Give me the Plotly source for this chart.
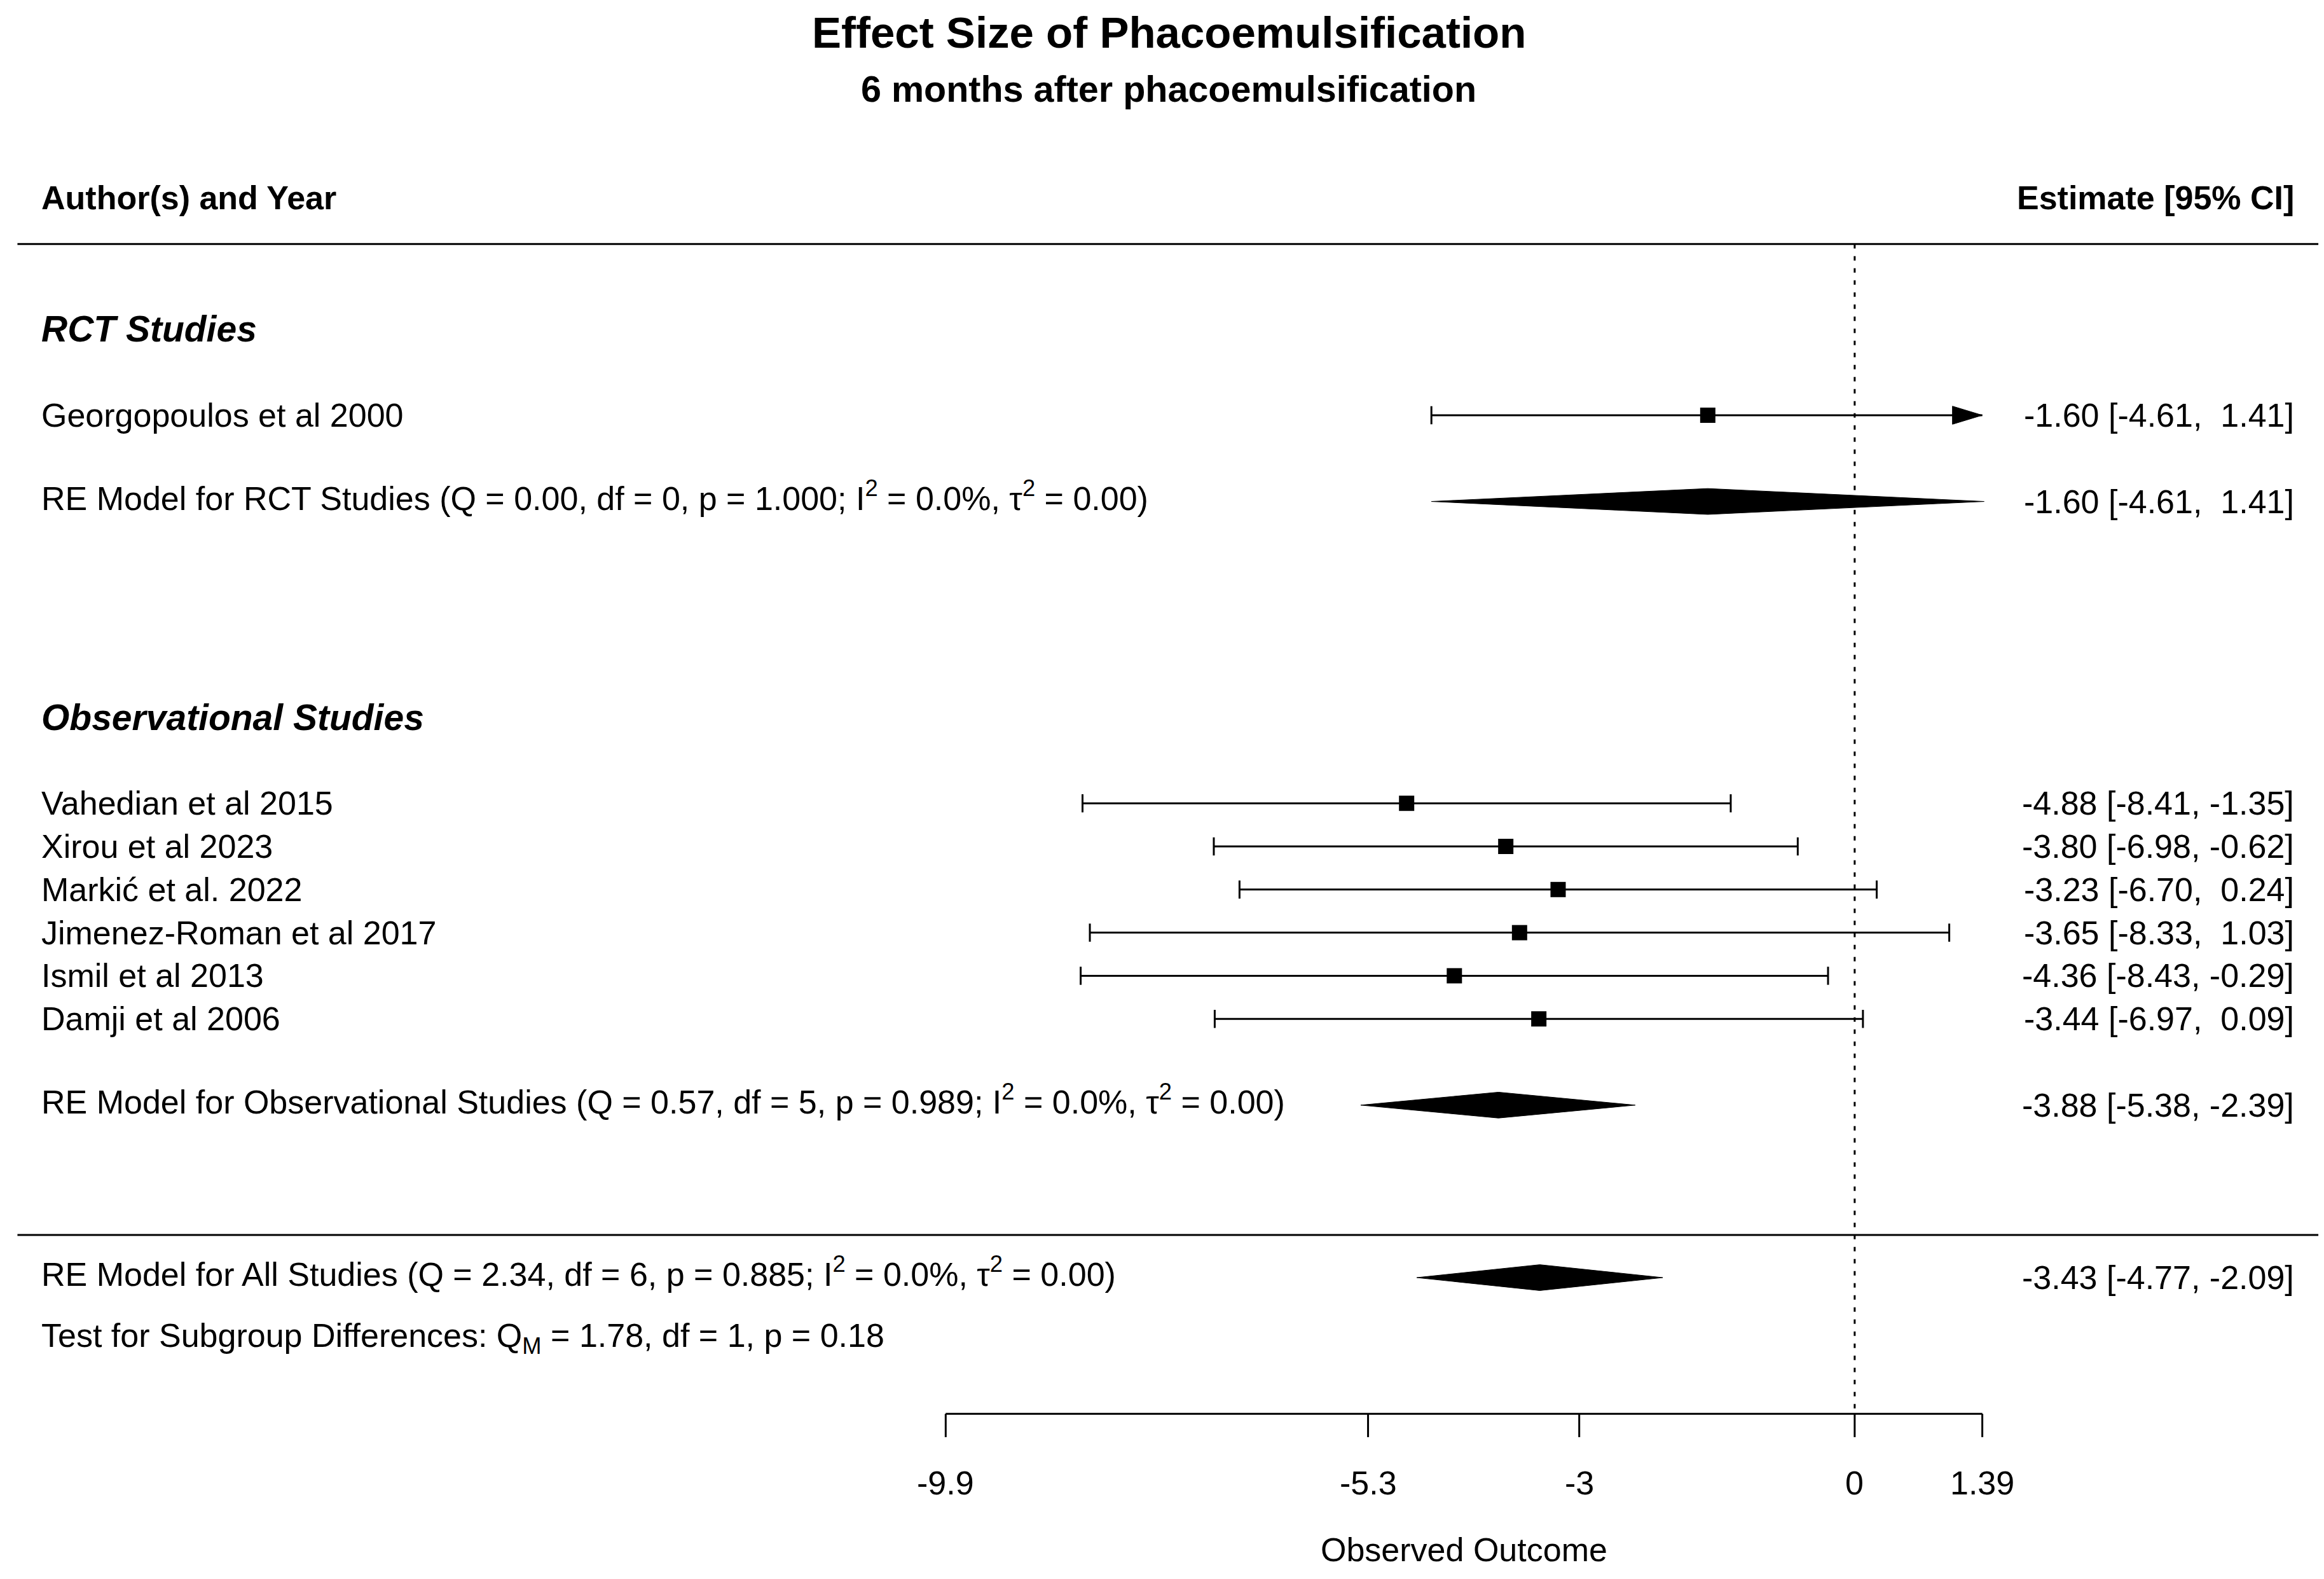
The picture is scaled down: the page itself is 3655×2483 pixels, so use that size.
import plotly.graph_objects as go

# --- DATOS ---
TITULO = "Effect Size of Phacoemulsification"
SUBTITULO = "6 months after phacoemulsification"

rct_labels = ["Georgopoulos et al 2000"]
rct_est = [-1.60]
rct_lb = [-4.61]
rct_ub = [1.41]

obs_labels = ["Vahedian et al 2015", "Xirou et al 2023", "Markić et al. 2022",
              "Jimenez-Roman et al 2017", "Ismil et al 2013", "Damji et al 2006"]
obs_est = [-4.88, -3.80, -3.23, -3.65, -4.36, -3.44]
obs_lb = [-8.41, -6.98, -6.70, -8.33, -8.43, -6.97]
obs_ub = [-1.35, -0.62, 0.24, 1.03, -0.29, 0.09]

# modelos RE: RCT, observacionales, todos
re_names = ["RCT Studies", "Observational Studies", "All Studies"]
re_q = ["0.00", "0.57", "2.34"]
re_df = [0, 5, 6]
re_p = ["1.000", "0.989", "0.885"]
re_est = [-1.60, -3.88, -3.43]
re_lb = [-4.61, -5.38, -4.77]
re_ub = [1.41, -2.39, -2.09]

subgrupo_texto = "Test for Subgroup Differences: Q<sub>M</sub> = 1.78, df = 1, p = 0.18"

ticks = [-9.9, -5.3, -3, 0, 1.39]
tick_text = ["-9.9", "-5.3", "-3", "0", "1.39"]

# --- DISPOSICION (filas del forest plot) ---
FILA_RCT_TITULO = 22
FILAS_RCT = [20]
FILA_OBS_TITULO = 13
FILAS_OBS = [11, 10, 9, 8, 7, 6]
FILAS_RE = [18, 4, 0]
FILA_TEST = -1.40
FILA_CABECERA = 25.04
FILA_LINEA_SUP = 23.97
FILA_LINEA_INF = 0.99
FILA_EJE = -3.16
FILA_TICK = -3.70
FILA_TICKLAB = -4.76
FILA_XLAB = -6.31
AJUSTE_SUP = 0.13  # el superindice desplaza el centro del texto

X_IZQ = -19.765
X_DER = 4.80

# escala: 144.4 px por unidad en x, 67.8 px por fila en y
# el body de la pagina tiene 8 px de margen, se compensa aqui
PX_X = 144.4
PX_Y = 67.8
MARGEN_BODY = 8
ANCHO = 3655 - 2 * MARGEN_BODY
ALTO = 2483 - 2 * MARGEN_BODY
X_RANGO = [-20.20 + MARGEN_BODY / PX_X, -20.20 + (MARGEN_BODY + ANCHO) / PX_X]
Y_RANGO = [-6.99 + MARGEN_BODY / PX_Y, 29.63 - MARGEN_BODY / PX_Y]

FUENTE = "Liberation Sans, Arial, Helvetica, sans-serif"
TAM = 52
NEGRO = "black"
LW = 3

alim = [ticks[0], ticks[-1]]


def fmt_ic(est, lb, ub):
    return f"{est:.2f} [{lb:5.2f}, {ub:5.2f}]".replace("[ ", "[\u00a0").replace(",  ", ",\u00a0\u00a0")


fig = go.Figure()
anotaciones = []


def texto(x, y, t, anchor="left", size=TAM, bold=False, italic=False):
    if bold:
        t = f"<b>{t}</b>"
    if italic:
        t = f"<i>{t}</i>"
    anotaciones.append(dict(x=x, y=y, xref="x", yref="y", text=t, showarrow=False,
                            xanchor=anchor, yanchor="middle",
                            font=dict(family=FUENTE, size=size, color=NEGRO)))


# linea de referencia en 0
fig.add_trace(go.Scatter(x=[0, 0], y=[FILA_LINEA_SUP, FILA_EJE], mode="lines",
                         line=dict(color=NEGRO, width=LW, dash="7px,12px"), hoverinfo="skip"))

# estudios individuales
labels = rct_labels + obs_labels
est = rct_est + obs_est
lb = rct_lb + obs_lb
ub = rct_ub + obs_ub
filas = FILAS_RCT + FILAS_OBS

CAP = 0.21
FLECHA_H = 0.21
FLECHA_L = 0.325

lx, ly, cx, cy = [], [], [], []
for e, l, u, r in zip(est, lb, ub, filas):
    l_c = max(l, alim[0])
    u_c = min(u, alim[1])
    lx += [l_c, u_c, None]
    ly += [r, r, None]
    if l >= alim[0]:
        cx += [l, l, None]
        cy += [r - CAP, r + CAP, None]
    else:
        fig.add_trace(go.Scatter(x=[l_c, l_c + FLECHA_L, l_c + FLECHA_L, l_c],
                                 y=[r, r + FLECHA_H, r - FLECHA_H, r], fill="toself",
                                 fillcolor=NEGRO, mode="lines", line=dict(color=NEGRO, width=1),
                                 hoverinfo="skip"))
    if u <= alim[1]:
        cx += [u, u, None]
        cy += [r - CAP, r + CAP, None]
    else:
        fig.add_trace(go.Scatter(x=[u_c, u_c - FLECHA_L, u_c - FLECHA_L, u_c],
                                 y=[r, r + FLECHA_H, r - FLECHA_H, r], fill="toself",
                                 fillcolor=NEGRO, mode="lines", line=dict(color=NEGRO, width=1),
                                 hoverinfo="skip"))

fig.add_trace(go.Scatter(x=lx, y=ly, mode="lines", line=dict(color=NEGRO, width=LW), hoverinfo="skip"))
fig.add_trace(go.Scatter(x=cx, y=cy, mode="lines", line=dict(color=NEGRO, width=LW), hoverinfo="skip"))
fig.add_trace(go.Scatter(x=est, y=filas, mode="markers",
                         marker=dict(symbol="square", size=24, color=NEGRO, line=dict(width=0)),
                         hoverinfo="skip"))

for t, e, l, u, r in zip(labels, est, lb, ub, filas):
    texto(X_IZQ, r, t)
    texto(X_DER, r, fmt_ic(e, l, u), anchor="right")

# diamantes de los modelos RE
DIAM = 0.30
for n, q, d, p, e, l, u, r in zip(re_names, re_q, re_df, re_p, re_est, re_lb, re_ub, FILAS_RE):
    fig.add_trace(go.Scatter(x=[l, e, u, e, l], y=[r, r + DIAM, r, r - DIAM, r],
                             fill="toself", fillcolor=NEGRO, mode="lines",
                             line=dict(color=NEGRO, width=1), hoverinfo="skip"))
    etiqueta = (f"RE Model for {n} (Q = {q}, df = {d}, p = {p}; "
                f"I<sup>2</sup> = 0.0%, τ<sup>2</sup> = 0.00)")
    texto(X_IZQ, r + AJUSTE_SUP, etiqueta)
    texto(X_DER, r, fmt_ic(e, l, u), anchor="right")

# cabeceras de grupo y textos
texto(X_IZQ, FILA_RCT_TITULO, "RCT Studies", size=57, bold=True, italic=True)
texto(X_IZQ, FILA_OBS_TITULO, "Observational Studies", size=57, bold=True, italic=True)
texto(X_IZQ, FILA_CABECERA, "Author(s) and Year", bold=True)
texto(X_DER, FILA_CABECERA, "Estimate [95% CI]", anchor="right", bold=True)
texto(X_IZQ, FILA_TEST, subgrupo_texto)

# eje inferior
ex = [ticks[0], ticks[-1], None]
ey = [FILA_EJE, FILA_EJE, None]
for tv in ticks:
    ex += [tv, tv, None]
    ey += [FILA_EJE, FILA_TICK, None]
fig.add_trace(go.Scatter(x=ex, y=ey, mode="lines", line=dict(color=NEGRO, width=LW), hoverinfo="skip"))
for tv, tt in zip(ticks, tick_text):
    texto(tv, FILA_TICKLAB, tt, anchor="center")
texto((ticks[0] + ticks[-1]) / 2, FILA_XLAB, "Observed Outcome", anchor="center")

# lineas horizontales
for fy in [FILA_LINEA_SUP, FILA_LINEA_INF]:
    fig.add_shape(type="line", xref="x", yref="y", x0=-20.01, x1=5.05, y0=fy, y1=fy,
                  line=dict(color=NEGRO, width=LW))

# titulo
anotaciones.append(dict(x=-7.47, y=28.87, xref="x", yref="y", text=f"<b>{TITULO}</b>",
                        showarrow=False, xanchor="center", yanchor="middle",
                        font=dict(family=FUENTE, size=69, color=NEGRO)))
anotaciones.append(dict(x=-7.47, y=27.57, xref="x", yref="y", text=f"<b>{SUBTITULO}</b>",
                        showarrow=False, xanchor="center", yanchor="middle",
                        font=dict(family=FUENTE, size=57.5, color=NEGRO)))

fig.update_layout(
    width=ANCHO, height=ALTO,
    margin=dict(l=0, r=0, t=0, b=0),
    paper_bgcolor="white", plot_bgcolor="white",
    showlegend=False,
    xaxis=dict(range=X_RANGO, visible=False, fixedrange=True),
    yaxis=dict(range=Y_RANGO, visible=False, fixedrange=True),
    annotations=anotaciones,
)

fig.write_html("out.html")
